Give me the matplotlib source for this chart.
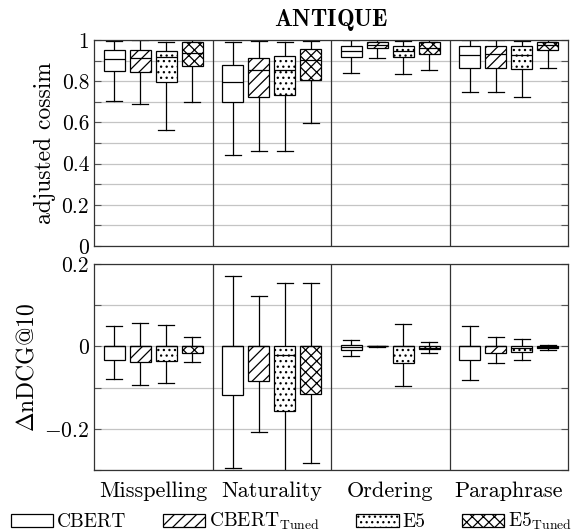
import matplotlib
matplotlib.use("Agg")
import matplotlib.pyplot as plt
from matplotlib.patches import Patch

plt.rcParams['font.family'] = ['cmr10', 'DejaVu Serif']
plt.rcParams['mathtext.fontset'] = 'cm'
plt.rcParams['axes.formatter.use_mathtext'] = True
plt.rcParams['hatch.linewidth'] = 0.9

categories = ["Misspelling", "Naturality", "Ordering", "Paraphrase"]
models = ["CBERT", "CBERT$_{\\mathrm{Tuned}}$", "E5", "E5$_{\\mathrm{Tuned}}$"]
hatches = ["", "///", "...", "xxx"]

# each entry: (whislo, q1, med, q3, whishi) per category
cossim_cbert = [(0.703, 0.849, 0.906, 0.951, 0.997), (0.444, 0.700, 0.796, 0.880, 0.989),
                (0.840, 0.916, 0.945, 0.969, 1.0), (0.747, 0.864, 0.925, 0.969, 1.0)]
cossim_cbert_tuned = [(0.690, 0.844, 0.912, 0.951, 1.0), (0.463, 0.723, 0.856, 0.912, 0.994),
                      (0.912, 0.961, 0.974, 0.990, 1.0), (0.747, 0.864, 0.930, 0.969, 1.0)]
cossim_e5 = [(0.564, 0.796, 0.916, 0.949, 0.989), (0.463, 0.732, 0.856, 0.920, 0.989),
             (0.836, 0.916, 0.945, 0.969, 0.994), (0.721, 0.860, 0.925, 0.969, 0.994)]
cossim_e5_tuned = [(0.699, 0.872, 0.937, 0.990, 1.0), (0.597, 0.806, 0.904, 0.958, 0.994),
                   (0.852, 0.933, 0.960, 0.990, 1.0), (0.864, 0.950, 0.975, 0.990, 1.0)]

dndcg_cbert = [(-0.079, -0.034, 0.0, 0.0, 0.050), (-0.295, -0.119, 0.0, 0.0, 0.171),
               (-0.024, -0.008, -0.002, 0.003, 0.015), (-0.081, -0.034, 0.0, 0.0, 0.050)]
dndcg_cbert_tuned = [(-0.093, -0.038, 0.0, 0.0, 0.057), (-0.208, -0.084, 0.0, 0.0, 0.122),
                     (-0.001, 0.0, 0.0, 0.0, 0.001), (-0.040, -0.017, 0.0, 0.0, 0.024)]
dndcg_e5 = [(-0.089, -0.036, 0.0, 0.0, 0.051), (-0.320, -0.157, -0.021, 0.0, 0.155),
            (-0.095, -0.041, 0.0, 0.0, 0.055), (-0.032, -0.013, -0.005, 0.0, 0.018)]
dndcg_e5_tuned = [(-0.037, -0.016, 0.0, 0.0, 0.022), (-0.283, -0.115, 0.0, 0.0, 0.153),
                  (-0.015, -0.007, -0.003, 0.002, 0.011), (-0.008, -0.005, -0.001, 0.002, 0.004)]

cossim = [cossim_cbert, cossim_cbert_tuned, cossim_e5, cossim_e5_tuned]
dndcg = [dndcg_cbert, dndcg_cbert_tuned, dndcg_e5, dndcg_e5_tuned]

top_ticks = [0, 0.2, 0.4, 0.6, 0.8, 1.0]
top_ticklabels = ["0", "0.2", "0.4", "0.6", "0.8", "1"]
bot_ticks = [-0.2, 0.0, 0.2]
bot_ticklabels = ["$-$0.2", "0", "0.2"]

fig = plt.figure(figsize=(5.79, 5.32), dpi=100)
W, H = 579, 532
left, right = 94 / W, 568 / W
ax_top = fig.add_axes([left, 1 - 246 / H, right - left, 206 / H])
ax_bot = fig.add_axes([left, 1 - 470 / H, right - left, 206 / H])

offsets = [-0.33, -0.11, 0.11, 0.33]
width = 0.178


def draw(ax, data, ylim, grid_vals, ticks, ticklabels):
    for gv in grid_vals:
        ax.axhline(gv, color="#c4c4c4", lw=0.9, zorder=0)
    for xv in [0.5, 1.5, 2.5]:
        ax.axvline(xv, color="#333333", lw=0.9, zorder=1)
    for m, (series, hatch) in enumerate(zip(data, hatches)):
        stats = []
        for (lo, q1, med, q3, hi) in series:
            stats.append(dict(whislo=lo, q1=q1, med=med, q3=q3, whishi=hi, fliers=[]))
        pos = [i + offsets[m] for i in range(len(categories))]
        bp = ax.bxp(stats, positions=pos, widths=width, patch_artist=True,
                    showfliers=False, capwidths=0.135,
                    boxprops=dict(facecolor="white", edgecolor="black", lw=0.9, hatch=hatch),
                    medianprops=dict(color="black", lw=0.9),
                    whiskerprops=dict(color="black", lw=0.9),
                    capprops=dict(color="black", lw=0.9))
        for b in bp["boxes"]:
            b.set_zorder(3)
        for md in bp["medians"]:
            md.set_zorder(4)
    ax.set_xlim(-0.5, 3.5)
    ax.set_ylim(*ylim)
    ax.set_yticks(grid_vals, minor=True)
    ax.set_yticks(ticks)
    ax.set_yticklabels(ticklabels, fontsize=15.5)
    ax.tick_params(axis="y", which="both", direction="in", left=True, right=True,
                   length=5, width=0.8, color="#555555")
    for s in ax.spines.values():
        s.set_color("#333333")
        s.set_linewidth(0.9)
        s.set_zorder(5)


grid_top = [round(0.1 * i, 2) for i in range(0, 11)]
grid_bot = [round(-0.3 + 0.1 * i, 2) for i in range(0, 6)]

draw(ax_top, cossim, (0, 1), grid_top, top_ticks, top_ticklabels)
draw(ax_bot, dndcg, (-0.3, 0.2), grid_bot, bot_ticks, bot_ticklabels)

ax_top.set_xticks([])
ax_bot.set_xticks(range(len(categories)))
ax_bot.set_xticklabels(categories, fontsize=16)
ax_bot.tick_params(axis="x", length=0, pad=8)

ax_top.set_title("$\\mathbf{ANTIQUE}$", fontsize=17, pad=10)
ax_top.set_ylabel("adjusted cossim", fontsize=17)
ax_bot.set_ylabel("$\\Delta$nDCG@10", fontsize=17)
fig.align_ylabels([ax_top, ax_bot])

handles = [Patch(facecolor="white", edgecolor="black", hatch=h, lw=0.9) for h in hatches]
fig.legend(handles, models, loc="lower left", bbox_to_anchor=(0.005, -0.015), ncol=4,
           frameon=False, fontsize=14, handlelength=2.2, handleheight=0.65,
           handletextpad=0.2, columnspacing=1.85, borderaxespad=0.0)

fig.savefig("out.png", dpi=100)
